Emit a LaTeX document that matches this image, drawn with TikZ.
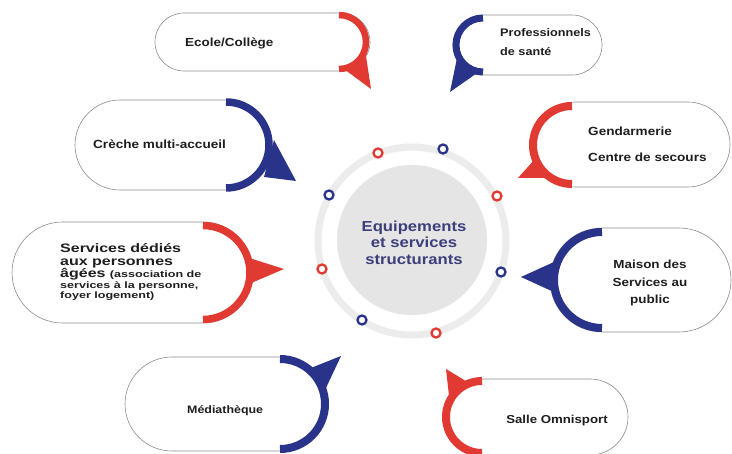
\documentclass[tikz,border=0pt]{standalone}
\usepackage{fontspec}
\setmainfont{Liberation Sans}
\newfontfamily\wf[FakeStretch=1.15]{Liberation Sans}
\newfontfamily\wfb[FakeStretch=1.3]{Liberation Sans}
\newfontfamily\wfs[FakeStretch=1.35]{Liberation Sans}
\definecolor{cred}{HTML}{E03A32}
\definecolor{cblue}{HTML}{2A338A}
\definecolor{ctxt}{HTML}{1E1E1E}
\definecolor{ccent}{HTML}{3C3F7A}
\definecolor{cring}{HTML}{ECECEC}
\definecolor{cdisc}{HTML}{E5E5E5}
\newcommand\stadbox[5]{\draw[outl, rounded corners=#5pt] (#1,#2) rectangle (#3,#4);}
\begin{document}
\begin{tikzpicture}[x=1pt,y=-1pt,
  outl/.style={draw=black!45, line width=0.6pt, fill=white},
  redarc/.style={draw=cred, line width=#1pt},
  bluearc/.style={draw=cblue, line width=#1pt},
  lbl/.style={inner sep=0pt, text=ctxt, font=\wf\bfseries},
  dotr/.style={circle, draw=cred, line width=2.3pt, fill=white, minimum size=9pt, inner sep=0pt},
  dotb/.style={circle, draw=cblue, line width=2.3pt, fill=white, minimum size=9pt, inner sep=0pt},
  ctext/.style={inner sep=0pt, text=ccent, font=\wf\bfseries\fontsize{14.5}{16}\selectfont, anchor=base}]
\useasboundingbox (0,0) rectangle (732,454);
\fill[white] (0,0) rectangle (732,454);

% centre
\draw[cring, line width=7pt] (412,241) circle[radius=94];
\fill[cdisc] (412,240) circle[radius=75];
\node[ctext] (c1) at (414,232) {Equipements};
\node[ctext] (c2) at (414,248) {et services};
\node[ctext] (c3) at (414,265) {structurants};
\node[dotr] (m1) at (378,153) {};
\node[dotb] (m2) at (443,149) {};
\node[dotr] (m3) at (497,196) {};
\node[dotb] (m4) at (329,195) {};
\node[dotr] (m5) at (322,269) {};
\node[dotb] (m6) at (501,272) {};
\node[dotb] (m7) at (362,320) {};
\node[dotr] (m8) at (436,333) {};

% 1 Ecole/College
\stadbox{155}{13}{370}{71}{29}
\draw[redarc=6.5] (339,15) arc[start angle=-90,end angle=90,radius=27];
\fill[cred] (344,69) -- (366,56) -- (371,89) -- cycle;
\node[lbl, anchor=base west, font=\wf\bfseries\fontsize{11.7}{14}\selectfont] (t1) at (185,47) {Ecole/Collège};

% 2 Professionnels
\stadbox{453}{15}{602}{75}{30}
\draw[bluearc=7] (483,18) arc[start angle=270,end angle=90,radius=27];
\fill[cblue] (457,58) -- (480,71) -- (450,92) -- cycle;
\node[lbl, anchor=base west, font=\wf\bfseries\fontsize{11}{14}\selectfont] (t2a) at (500,37) {Professionnels};
\node[lbl, anchor=base west, font=\wf\bfseries\fontsize{11}{14}\selectfont] (t2b) at (500,56) {de santé};

% 3 Creche
\stadbox{75}{100}{271}{190}{45}
\draw[bluearc=7.5] (226,102) arc[start angle=-90,end angle=90,radius=43];
\fill[cblue] (274,140) -- (264,177) -- (296,181) -- cycle;
\node[lbl, anchor=base west, font=\wf\bfseries\fontsize{11.8}{14}\selectfont] (t3) at (93,149) {Crèche multi-accueil};

% 4 Gendarmerie
\stadbox{533}{102}{730}{187}{42.5}
\draw[redarc=8] (572,106) arc[start angle=270,end angle=90,radius=39];
\fill[cred] (535,159) -- (546,178) -- (518,178) -- cycle;
\node[lbl, anchor=base west, font=\wf\bfseries\fontsize{11.8}{14}\selectfont] (t4a) at (588,136) {Gendarmerie};
\node[lbl, anchor=base west, font=\wf\bfseries\fontsize{11.8}{14}\selectfont] (t4b) at (588,162) {Centre de secours};

% 5 Services
\stadbox{12}{222}{253}{323}{50.5}
\draw[redarc=7.5] (203,225.5) arc[start angle=-90,end angle=90,radius=47];
\fill[cred] (246,257) -- (249,284) -- (284,269) -- cycle;
\node[lbl, anchor=base west, font=\wfb\bfseries\fontsize{12.3}{13}\selectfont] (s1) at (60,253) {Services dédiés};
\node[lbl, anchor=base west, font=\wfb\bfseries\fontsize{12.3}{13}\selectfont] (s2) at (60,266) {aux personnes};
\node[lbl, anchor=base west, font=\wfb\bfseries\fontsize{12.3}{13}\selectfont] (s3) at (60,278) {âgées {\wfs\fontsize{9.3}{10}\selectfont (association de}};
\node[lbl, anchor=base west, font=\wfs\bfseries\fontsize{9.3}{10}\selectfont] (s4) at (60,289) {services à la personne,};
\node[lbl, anchor=base west, font=\wfs\bfseries\fontsize{9.3}{10}\selectfont] (s5) at (60,299) {foyer logement)};

% 6 Maison des Services
\stadbox{550}{228}{731}{332}{52}
\draw[bluearc=8] (602,232) arc[start angle=270,end angle=90,radius=48];
\fill[cblue] (554,262) -- (556,293) -- (521,277) -- cycle;
\node[lbl, anchor=base, font=\wf\bfseries\fontsize{11.7}{14}\selectfont] (t6a) at (650,269) {Maison des};
\node[lbl, anchor=base, font=\wf\bfseries\fontsize{11.7}{14}\selectfont] (t6b) at (650,287) {Services au};
\node[lbl, anchor=base, font=\wf\bfseries\fontsize{11.7}{14}\selectfont] (t6c) at (650,304) {public};

% 7 Mediatheque
\stadbox{125}{357}{327}{451}{47}
\draw[bluearc=8] (280,359) arc[start angle=-90,end angle=90,radius=45];
\fill[cblue] (311,368) -- (325,390) -- (341,356) -- cycle;
\node[lbl, anchor=base west, font=\wf\bfseries\fontsize{10.8}{14}\selectfont] (t7) at (187,414) {Médiathèque};

% 8 Salle Omnisport
\stadbox{444}{379}{628}{455}{38}
\draw[redarc=8] (482,381) arc[start angle=270,end angle=90,radius=36];
\fill[cred] (449,396) -- (469,383) -- (446,369) -- cycle;
\node[lbl, anchor=base, font=\wf\bfseries\fontsize{11.5}{14}\selectfont] (t8) at (557,424) {Salle Omnisport};
\end{tikzpicture}
\end{document}
